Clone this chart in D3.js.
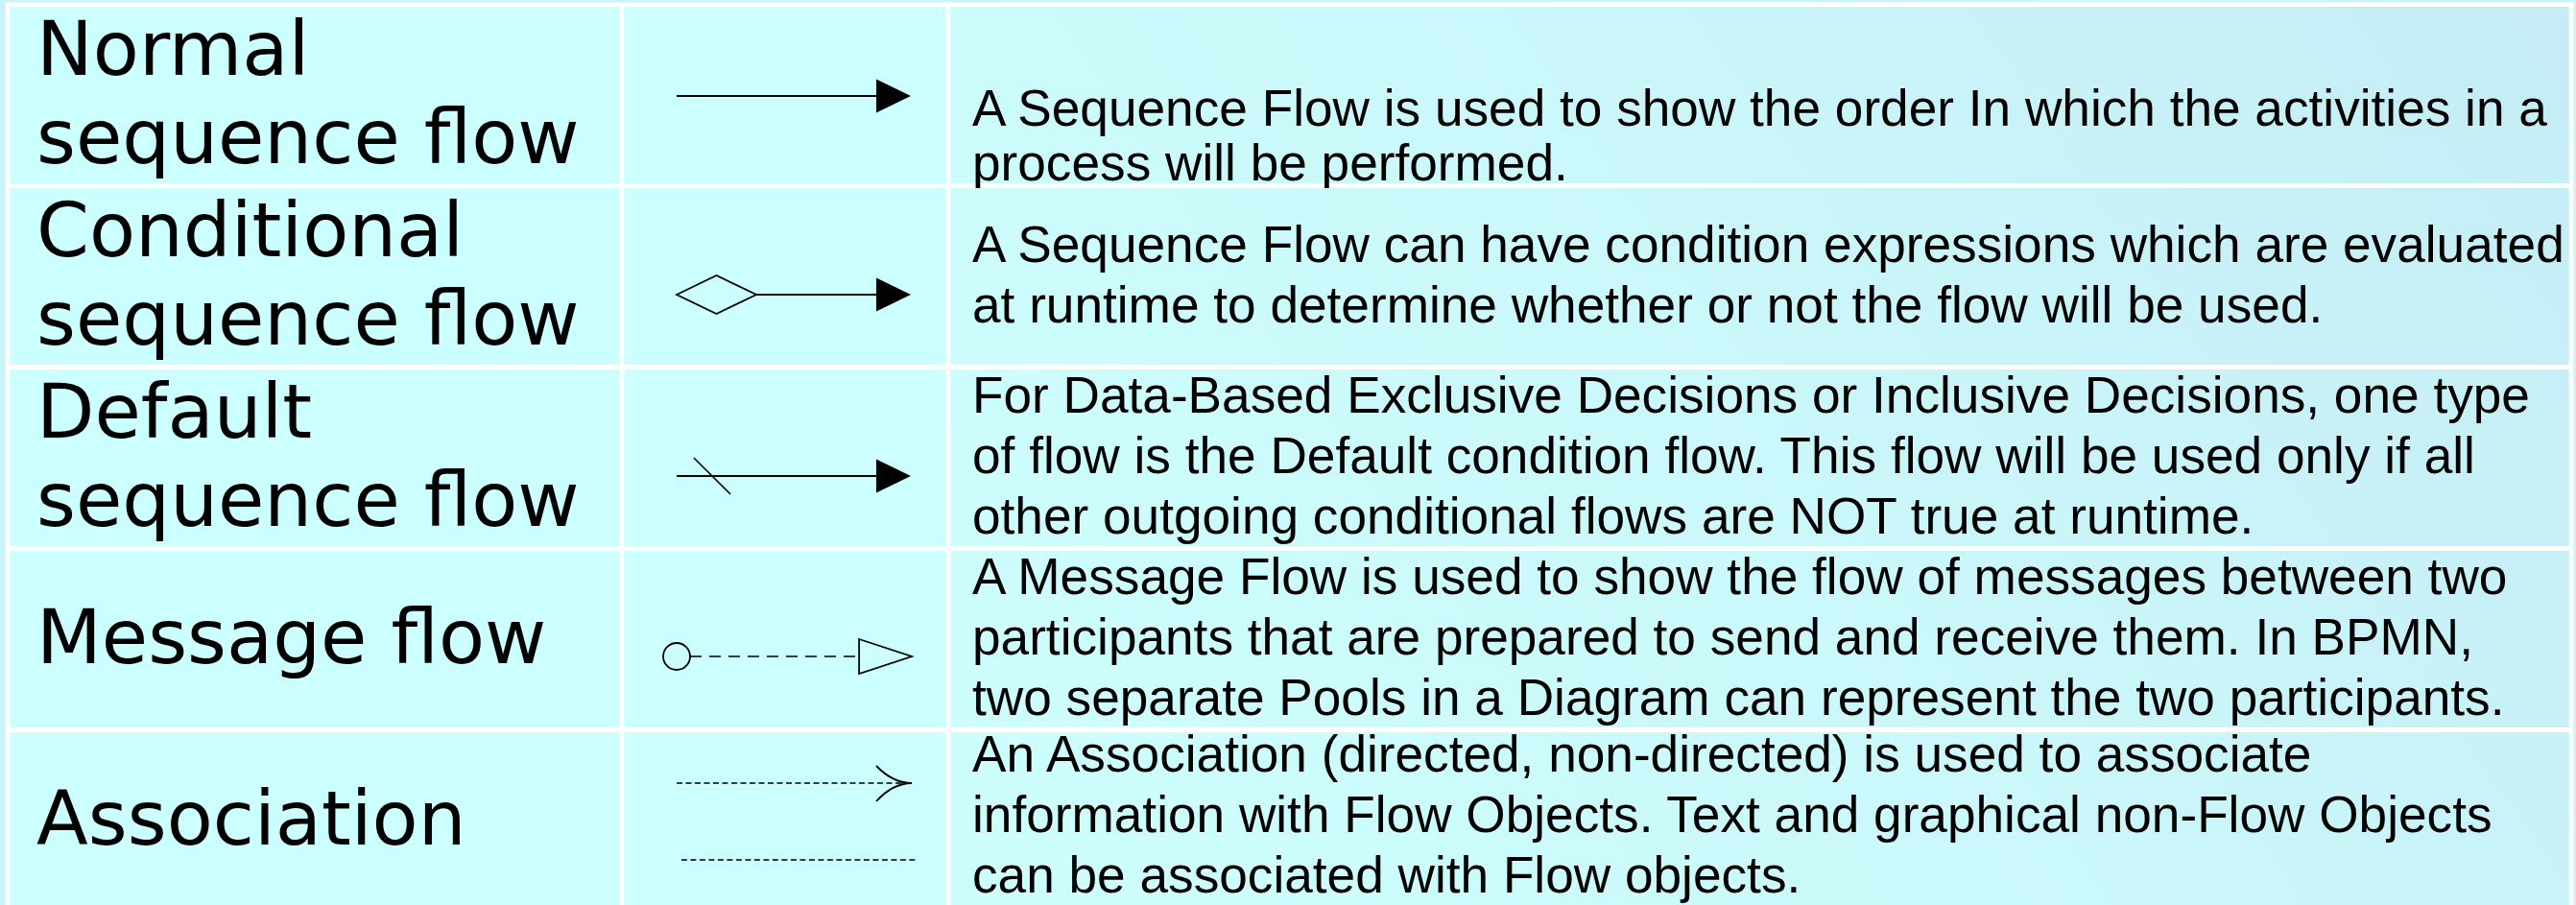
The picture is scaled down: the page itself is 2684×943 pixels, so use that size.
<!DOCTYPE html>
<html>
<head>
<meta charset="utf-8">
<script src="https://cdn.jsdelivr.net/npm/d3@7"></script>
<style>
  html, body { margin: 0; padding: 0; background: #c9f4f8; }
  svg { display: block; }
</style>
</head>
<body>
<svg id="chart" width="2684" height="943"></svg>
<script>
// ---------- data ----------
const categories = ["Normal sequence flow", "Conditional sequence flow", "Default sequence flow", "Message flow", "Association"];
const labelLines = [
  ["Normal", "sequence flow"],
  ["Conditional", "sequence flow"],
  ["Default", "sequence flow"],
  ["Message flow"],
  ["Association"]
];
const symbolTypes = ["sequence", "conditional", "default", "message", "association"];
const descriptions = [
  ["A Sequence Flow is used to show the order In which the activities in a",
   "process will be performed."],
  ["A Sequence Flow can have condition expressions which are evaluated",
   "at runtime to determine whether or not the flow will be used."],
  ["For Data-Based Exclusive Decisions or Inclusive Decisions, one type",
   "of flow is the Default condition flow. This flow will be used only if all",
   "other outgoing conditional flows are NOT true at runtime."],
  ["A Message Flow is used to show the flow of messages between two",
   "participants that are prepared to send and receive them. In BPMN,",
   "two separate Pools in a Diagram can represent the two participants."],
  ["An Association (directed, non-directed) is used to associate",
   "information with Flow Objects. Text and graphical non-Flow Objects",
   "can be associated with Flow objects."]
];

// ---------- layout ----------
const W = 2684, H = 943;
const colEdges = [8, 648, 988, 2679];   // centres of white vertical rules
const gap = 4.5;
const labelPitch = 92;
const descPitch = [57, 63, 63, 63, 63];
const descDy = [60, 16, 16, 16, 12];
const symbolDy = [1, 19, 19, 18, 0];

const svg = d3.select("#chart");
const defs = svg.append("defs");
const grad = defs.append("linearGradient")
  .attr("id", "descGrad").attr("gradientUnits", "userSpaceOnUse")
  .attr("x1", 1300).attr("y1", 943).attr("x2", 2680).attr("y2", 0);
grad.append("stop").attr("offset", "0%").attr("stop-color", "#cdfdfd");
grad.append("stop").attr("offset", "40%").attr("stop-color", "#cbf8fa");
grad.append("stop").attr("offset", "100%").attr("stop-color", "#c5ecf5");

const y = d3.scaleBand()
  .domain(d3.range(categories.length))
  .range([7, 7 + 5 * 189 - 5])
  .paddingInner(5 / 189)
  .paddingOuter(0);

// background
svg.append("rect").attr("width", W).attr("height", H).attr("fill", "#c9f4f8");
svg.append("rect")
  .attr("x", colEdges[0] - gap / 2).attr("y", 2.5)
  .attr("width", colEdges[3] - colEdges[0] + gap).attr("height", H)
  .attr("fill", "#ffffff");

// cells
const rows = svg.append("g").selectAll("g.row")
  .data(categories)
  .join("g").attr("class", "row");

[0, 1, 2].forEach(c => {
  rows.append("rect")
    .attr("x", colEdges[c] + gap / 2)
    .attr("y", (d, i) => y(i))
    .attr("width", colEdges[c + 1] - colEdges[c] - gap)
    .attr("height", y.bandwidth())
    .attr("fill", c === 2 ? "url(#descGrad)" : "#ccffff");
});

// labels
rows.append("text")
  .attr("font-family", "'DejaVu Sans', Verdana, sans-serif")
  .attr("font-size", 78.6)
  .attr("fill", "#000")
  .each(function(d, i) {
    const lines = labelLines[i];
    const cy = y(i) + y.bandwidth() / 2 + 25;
    d3.select(this).selectAll("tspan")
      .data(lines).join("tspan")
      .attr("x", 38)
      .attr("y", (t, k) => cy + (k - (lines.length - 1) / 2) * labelPitch)
      .text(t => t);
  });

// descriptions
rows.append("text")
  .attr("font-family", "'Liberation Sans', Arial, Helvetica, sans-serif")
  .attr("font-size", 53.2)
  .attr("fill", "#000")
  .each(function(d, i) {
    const lines = descriptions[i];
    const cy = y(i) + y.bandwidth() / 2 + descDy[i];
    d3.select(this).selectAll("tspan")
      .data(lines).join("tspan")
      .attr("x", 1013)
      .attr("y", (t, k) => cy + (k - (lines.length - 1) / 2) * descPitch[i])
      .text(t => t);
  });

// symbols
const sx = d3.scaleLinear().domain([0, 1]).range([705, 950]);
rows.each(function(d, i) {
  const g = d3.select(this).append("g").attr("fill", "none").attr("stroke", "#000");
  const cy = y(i) + y.bandwidth() / 2 + symbolDy[i];
  const type = symbolTypes[i];
  const tipX = sx(1) - 1, headX = sx(0.849);
  const filledHead = () => g.append("path")
    .attr("d", `M${headX},${cy - 17.5}L${tipX},${cy}L${headX},${cy + 17.5}Z`)
    .attr("fill", "#000").attr("stroke", "none");
  if (type === "sequence") {
    g.append("line").attr("x1", sx(0)).attr("x2", headX).attr("y1", cy).attr("y2", cy).attr("stroke-width", 1.8);
    filledHead();
  } else if (type === "conditional") {
    const dx0 = sx(0), dx1 = sx(0.339), dm = (dx0 + dx1) / 2;
    g.append("path").attr("d", `M${dx0},${cy}L${dm},${cy - 20}L${dx1},${cy}L${dm},${cy + 20}Z`).attr("stroke-width", 1.8);
    g.append("line").attr("x1", dx1).attr("x2", headX).attr("y1", cy).attr("y2", cy).attr("stroke-width", 1.8);
    filledHead();
  } else if (type === "default") {
    g.append("line").attr("x1", sx(0)).attr("x2", headX).attr("y1", cy).attr("y2", cy).attr("stroke-width", 1.8);
    g.append("line").attr("x1", sx(0.073)).attr("y1", cy - 19).attr("x2", sx(0.229)).attr("y2", cy + 19).attr("stroke-width", 1.6);
    filledHead();
  } else if (type === "message") {
    const r = 14, h0 = sx(0.776);
    g.append("circle").attr("cx", sx(0)).attr("cy", cy).attr("r", r).attr("stroke-width", 1.8);
    g.append("line").attr("x1", sx(0) + r).attr("x2", h0).attr("y1", cy).attr("y2", cy)
      .attr("stroke-width", 1.6).attr("stroke-dasharray", "12,8");
    g.append("path").attr("d", `M${h0},${cy - 18}L${sx(1)},${cy}L${h0},${cy + 18}Z`).attr("stroke-width", 1.8);
  } else if (type === "association") {
    const a1 = cy - 39, a2 = cy + 41;
    g.append("line").attr("x1", sx(0)).attr("x2", sx(1)).attr("y1", a1).attr("y2", a1)
      .attr("stroke-width", 1.4).attr("stroke-dasharray", "6,3.5");
    const hx = sx(0.849);
    g.append("path").attr("d", `M${hx},${a1 - 18}Q${sx(0.92)},${a1} ${sx(1)},${a1}M${hx},${a1 + 19}Q${sx(0.92)},${a1} ${sx(1)},${a1}`)
      .attr("stroke-width", 1.8);
    g.append("line").attr("x1", sx(0.02)).attr("x2", sx(1.02)).attr("y1", a2).attr("y2", a2)
      .attr("stroke-width", 1.4).attr("stroke-dasharray", "6,3.5");
  }
});
</script>
</body>
</html>
